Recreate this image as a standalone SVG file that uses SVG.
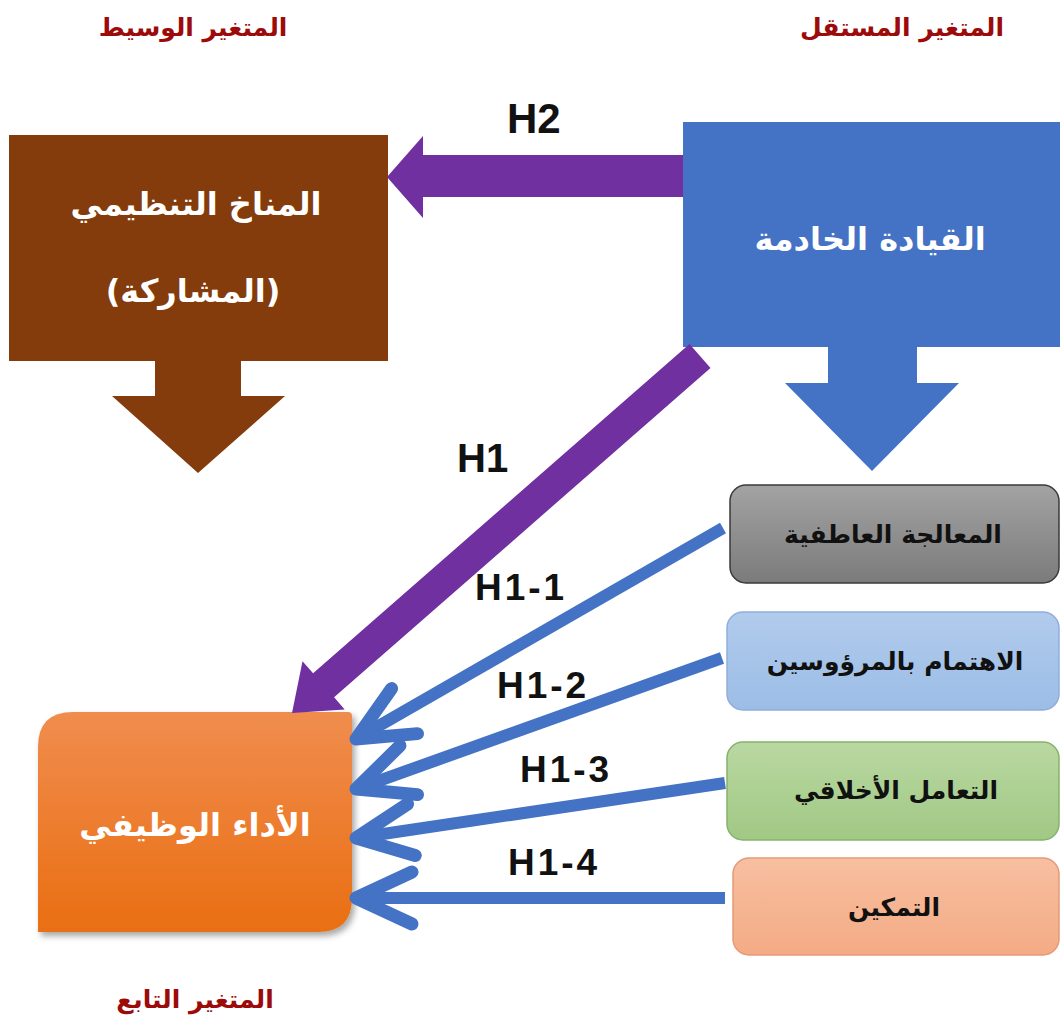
<svg xmlns="http://www.w3.org/2000/svg" width="1062" height="1023" viewBox="0 0 1062 1023">
<style>
.title{font-family:"DejaVu Sans",sans-serif;font-weight:bold;font-size:25px;fill:#9c0a0a;text-anchor:middle}
.big{font-family:"DejaVu Sans",sans-serif;font-weight:bold;font-size:32px;fill:#ffffff;text-anchor:middle}
.small{font-family:"DejaVu Sans",sans-serif;font-weight:bold;font-size:25px;fill:#111111;text-anchor:middle}
.hl{font-family:"Liberation Sans",Arial,sans-serif;font-weight:bold;fill:#111111}
.thin{stroke:#4472c4;stroke-width:12;fill:none;marker-end:url(#chev)}
</style>
<defs>
<marker id="chev" markerUnits="userSpaceOnUse" markerWidth="100" markerHeight="100" viewBox="-80 -50 100 100" refX="0" refY="0" orient="auto" overflow="visible">
<path d="M-56,-26 L0,0 L-56,26" fill="none" stroke="#4472c4" stroke-width="13" stroke-linecap="round" stroke-linejoin="round"/>
</marker>
<linearGradient id="gOrange" x1="0" y1="0" x2="0" y2="1">
<stop offset="0" stop-color="#f08d4e"/><stop offset="1" stop-color="#ea6e12"/>
</linearGradient>
<linearGradient id="gGray" x1="0" y1="0" x2="0" y2="1">
<stop offset="0" stop-color="#a3a3a3"/><stop offset="1" stop-color="#7b7b7b"/>
</linearGradient>
<linearGradient id="gBlue" x1="0" y1="0" x2="0" y2="1">
<stop offset="0" stop-color="#b1cbec"/><stop offset="1" stop-color="#9cbde6"/>
</linearGradient>
<linearGradient id="gGreen" x1="0" y1="0" x2="0" y2="1">
<stop offset="0" stop-color="#b9d8a2"/><stop offset="1" stop-color="#a1c884"/>
</linearGradient>
<linearGradient id="gSalmon" x1="0" y1="0" x2="0" y2="1">
<stop offset="0" stop-color="#f7bfa0"/><stop offset="1" stop-color="#f4ab85"/>
</linearGradient>
<filter id="shadow" x="-10%" y="-10%" width="125%" height="125%">
<feDropShadow dx="3" dy="4" stdDeviation="3" flood-color="#000" flood-opacity="0.35"/>
</filter>
</defs>
<rect width="1062" height="1023" fill="#ffffff"/>

<text class="title" x="193" y="36">المتغير الوسيط</text>
<text class="title" x="902" y="36">المتغير المستقل</text>
<text class="title" x="195" y="1008">المتغير التابع</text>

<g id="node-mediator">
<rect x="9" y="135" width="379" height="226" fill="#843c0c"/>
<polygon points="155,360 241,360 241,396 285,396 198,473 112,396 155,396" fill="#843c0c"/>
<text class="big" x="196" y="215">المناخ التنظيمي</text>
<text class="big" x="193" y="302">(المشاركة)</text>
</g>

<g id="node-independent">
<rect x="683" y="122" width="377" height="225" fill="#4472c4"/>
<polygon points="828,346 917,346 917,383 959,383 872,471 785,383 828,383" fill="#4472c4"/>
<text class="big" x="870" y="250">القيادة الخادمة</text>
</g>

<g id="node-dependent">
<path d="M73,712 L348,712 Q352,712 352,716 L352,898 Q352,932 318,932 L38,932 L38,747 Q38,712 73,712 Z" fill="url(#gOrange)" filter="url(#shadow)"/>
<text class="big" x="195" y="836">الأداء الوظيفي</text>
</g>

<g id="node-emotional">
<rect x="730" y="485" width="329" height="98" rx="16" fill="url(#gGray)" stroke="#3a3a3a" stroke-width="1.5"/>
<text class="small" x="893" y="543">المعالجة العاطفية</text>
</g>
<g id="node-care">
<rect x="727" y="612" width="332" height="98" rx="16" fill="url(#gBlue)" stroke="#8faedb" stroke-width="1.5"/>
<text class="small" x="895" y="670">الاهتمام بالمرؤوسين</text>
</g>
<g id="node-ethical">
<rect x="727" y="742" width="332" height="98" rx="16" fill="url(#gGreen)" stroke="#86b26a" stroke-width="1.5"/>
<text class="small" x="896" y="799">التعامل الأخلاقي</text>
</g>
<g id="node-empower">
<rect x="733" y="858" width="326" height="97" rx="16" fill="url(#gSalmon)" stroke="#e39a78" stroke-width="1.5"/>
<text class="small" x="894" y="916">التمكين</text>
</g>

<g id="connectors">
<polygon points="683,155 423,155 423,136 387,177 423,218 423,197 683,197" fill="#7030a0"/>
<polygon points="689.5,344 710.5,368 334.1,697.3 344.7,709.4 292,713 302.5,661.2 313.1,673.3" fill="#7030a0"/>
<line class="thin" x1="723" y1="528" x2="356" y2="739"/>
<line class="thin" x1="722" y1="658" x2="356" y2="789"/>
<line class="thin" x1="725" y1="783" x2="356" y2="838"/>
<line class="thin" x1="725" y1="898" x2="356" y2="898"/>
</g>

<g id="labels">
<text class="hl" x="507" y="133" font-size="42">H2</text>
<text class="hl" x="457" y="472" font-size="40">H1</text>
<text class="hl" x="475" y="600" font-size="37" letter-spacing="3">H1-1</text>
<text class="hl" x="497" y="698" font-size="37" letter-spacing="3">H1-2</text>
<text class="hl" x="520" y="782" font-size="37" letter-spacing="3">H1-3</text>
<text class="hl" x="508" y="875" font-size="37" letter-spacing="3">H1-4</text>
</g>
</svg>
